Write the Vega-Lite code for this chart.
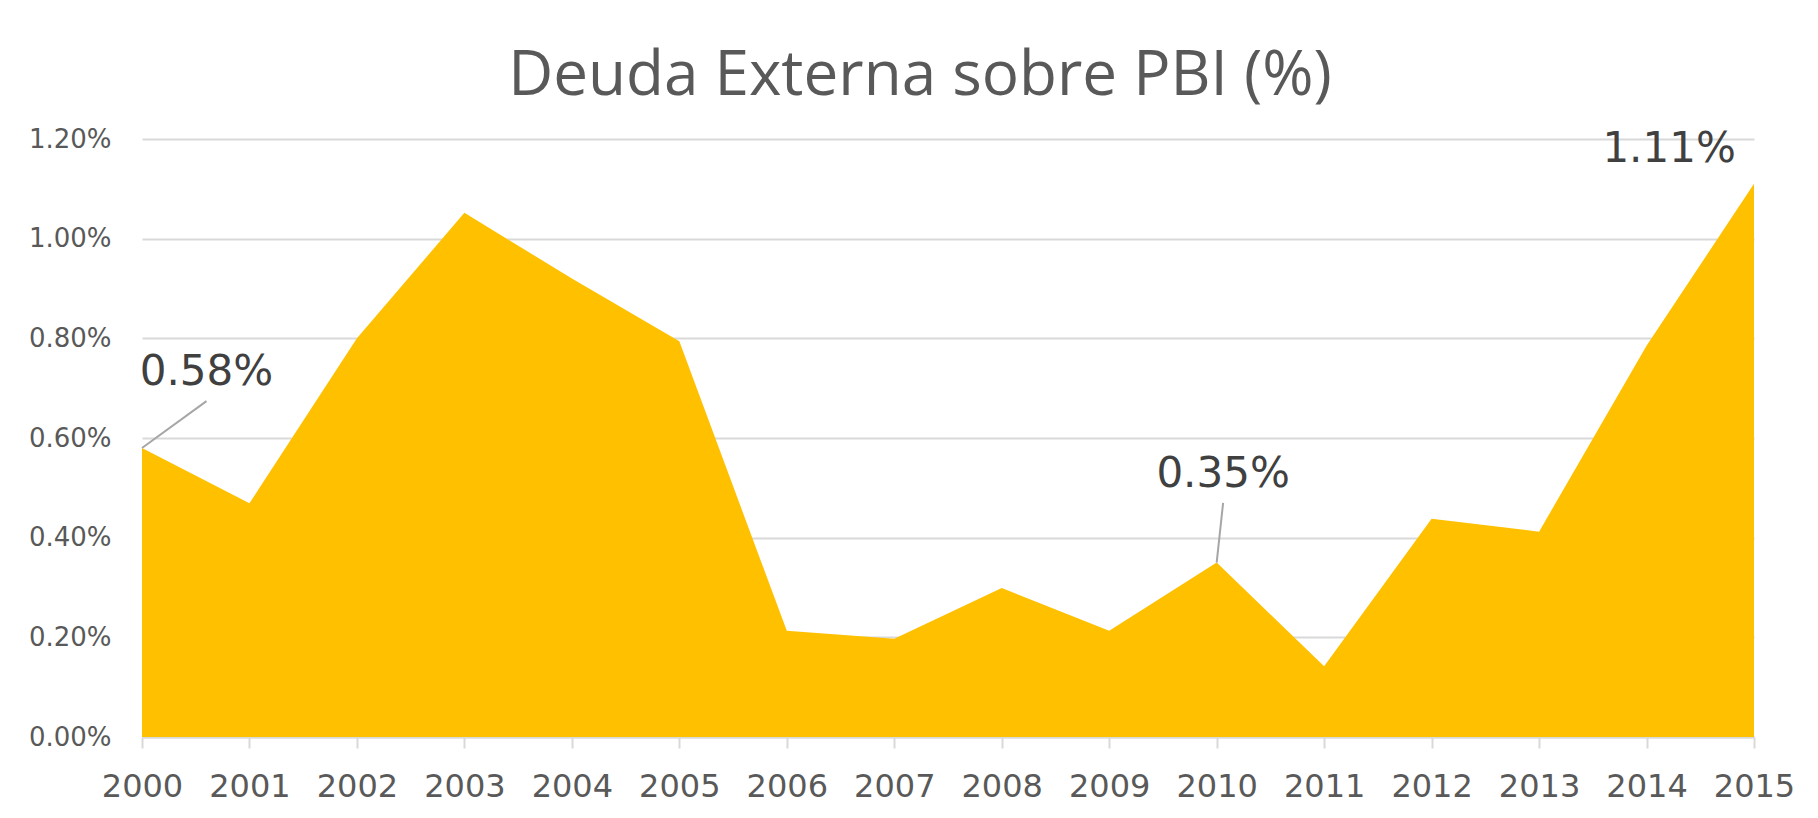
{
  "$schema": "https://vega.github.io/schema/vega-lite/v6.json",
  "autosize": {"type": "none"},
  "width": 1612,
  "height": 598,
  "padding": {"left": 142, "top": 139, "right": 64, "bottom": 81},
  "background": "white",
  "config": {"view": {"stroke": null}},
  "title": {
    "text": "Deuda Externa sobre PBI (%)",
    "font": "Open Sans",
    "fontSize": 62,
    "fontWeight": "normal",
    "color": "#595959",
    "anchor": "middle",
    "baseline": "alphabetic",
    "dx": -28,
    "offset": -31
  },
  "datasets": {
    "serie": [
      {"year": 2000, "value": 0.58},
      {"year": 2001, "value": 0.469},
      {"year": 2002, "value": 0.80},
      {"year": 2003, "value": 1.052},
      {"year": 2004, "value": 0.92},
      {"year": 2005, "value": 0.794},
      {"year": 2006, "value": 0.213},
      {"year": 2007, "value": 0.197},
      {"year": 2008, "value": 0.299},
      {"year": 2009, "value": 0.213},
      {"year": 2010, "value": 0.35},
      {"year": 2011, "value": 0.142},
      {"year": 2012, "value": 0.438},
      {"year": 2013, "value": 0.412},
      {"year": 2014, "value": 0.785},
      {"year": 2015, "value": 1.11}
    ],
    "notes": [
      {"year": 2000, "value": 0.58, "label": "0.58%", "leader": true, "ly": 2000.6, "lv": 0.674},
      {"year": 2010, "value": 0.35, "label": "0.35%", "leader": true, "ly": 2010.06, "lv": 0.47},
      {"year": 2015, "value": 1.11, "label": "1.11%", "leader": false, "ly": 2014.21, "lv": 1.122}
    ]
  },
  "layer": [
    {
      "data": {"name": "serie"},
      "mark": {"type": "area", "color": "#FFC000", "line": false, "opacity": 1},
      "encoding": {
        "x": {
          "field": "year",
          "type": "quantitative",
          "scale": {"domain": [2000, 2015], "nice": false, "zero": false},
          "axis": {
            "title": null,
            "values": [2000, 2001, 2002, 2003, 2004, 2005, 2006, 2007, 2008, 2009, 2010, 2011, 2012, 2013, 2014, 2015],
            "format": "d",
            "grid": false,
            "domain": true,
            "domainColor": "#d9d9d9",
            "domainWidth": 2,
            "ticks": true,
            "tickColor": "#d9d9d9",
            "tickWidth": 2,
            "tickSize": 11,
            "labelFont": "DejaVu Sans",
            "labelFontSize": 32,
            "labelColor": "#595959",
            "labelBaseline": "alphabetic",
            "labelPadding": 48,
            "labelFlush": false,
            "labelOverlap": false
          }
        },
        "y": {
          "field": "value",
          "type": "quantitative",
          "scale": {"domain": [0, 1.2], "nice": false},
          "axis": {
            "title": null,
            "values": [0, 0.2, 0.4, 0.6, 0.8, 1.0, 1.2],
            "labelExpr": "format(datum.value, '.2f') + '%'",
            "grid": true,
            "gridColor": "#d9d9d9",
            "gridWidth": 2,
            "domain": false,
            "ticks": false,
            "labelFont": "DejaVu Sans",
            "labelFontSize": 26,
            "labelColor": "#595959",
            "labelPadding": 31,
            "labelBaseline": "middle"
          }
        }
      }
    },
    {
      "data": {"name": "notes"},
      "transform": [{"filter": "datum.leader"}],
      "mark": {"type": "rule", "color": "#a6a6a6", "strokeWidth": 2},
      "encoding": {
        "x": {"field": "year", "type": "quantitative"},
        "y": {"field": "value", "type": "quantitative"},
        "x2": {"field": "ly"},
        "y2": {"field": "lv"}
      }
    },
    {
      "data": {"name": "notes"},
      "mark": {"type": "text", "font": "DejaVu Sans", "fontSize": 42, "color": "#404040", "align": "center", "baseline": "alphabetic", "dy": -16},
      "encoding": {
        "x": {"field": "ly", "type": "quantitative"},
        "y": {"field": "lv", "type": "quantitative"},
        "text": {"field": "label"}
      }
    }
  ]
}
